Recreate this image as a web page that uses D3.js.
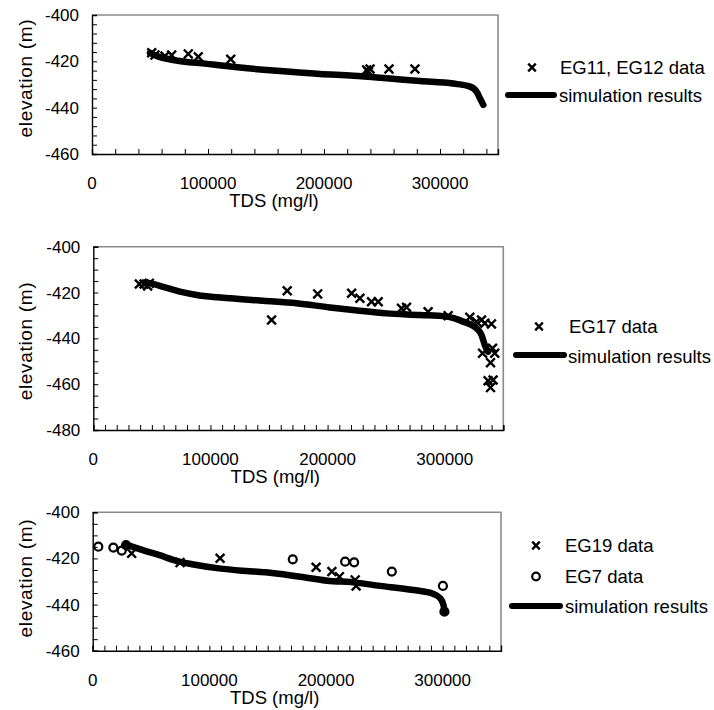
<!DOCTYPE html>
<html><head><meta charset="utf-8">
<script src="https://cdn.jsdelivr.net/npm/d3@7"></script>
<style>
html,body{margin:0;padding:0;background:#fff;}
svg{display:block;font-family:"Liberation Sans",Arial,sans-serif;}
</style></head>
<body>
<svg id="chart" width="714" height="710"></svg>
<script>
// ---------- data ----------
const xTickLabels = [0, 100000, 200000, 300000];

// Panel 1
const p1Legend = ["EG11, EG12 data", "simulation results"];
const p1DataTds  = [51500, 54300, 62900, 68700, 83000, 91600, 119600, 236800, 238200, 239700, 256000, 278400];
const p1DataElev = [-416.3, -417.3, -417.7, -417.3, -416.8, -418.0, -419.1, -423.7, -424.5, -423.3, -423.3, -423.3];
const p1SimTds  = [50000, 55800, 70100, 98900, 127600, 156300, 196600, 225300, 254100, 282800, 311500, 325900, 331600, 334500, 337300];
const p1SimElev = [-416.3, -417.7, -419.4, -421.1, -422.7, -424.0, -425.5, -426.2, -427.3, -428.5, -429.6, -430.9, -433.1, -436.0, -438.8];
const p1YTicks = [-400, -420, -440, -460];

// Panel 2
const p2Legend = ["EG17 data", "simulation results"];
const p2DataTds  = [39300, 43300, 46400, 47800, 152200, 165500, 191500, 220500, 227600, 237500, 243200, 263100, 267400, 285800, 302900, 321400, 327100, 331400, 334200, 339900, 332300, 340800, 342700, 339100, 337000, 341300, 339100];
const p2DataElev = [-416.3, -416.3, -417.1, -416.0, -432.0, -419.2, -420.6, -420.3, -422.5, -424.0, -424.0, -426.9, -426.4, -428.4, -430.1, -430.8, -432.7, -432.0, -433.4, -433.7, -446.5, -444.3, -446.5, -450.6, -458.5, -458.2, -461.5];
const p2SimTds  = [45000, 48400, 59700, 74000, 88200, 116600, 145100, 173500, 202000, 221800, 250300, 278800, 301500, 315700, 327100, 331400, 334200, 337000];
const p2SimElev = [-415.6, -415.9, -417.5, -419.6, -421.1, -422.5, -423.6, -424.7, -426.5, -427.6, -429.1, -429.8, -430.5, -432.7, -435.6, -438.5, -442.9, -445.8];
const p2YTicks = [-400, -420, -440, -460, -480];

// Panel 3
const p3Legend = ["EG19 data", "EG7 data", "simulation results"];
const p3Eg19Tds  = [33400, 74900, 109200, 191500, 205000, 211500, 225000, 225800];
const p3Eg19Elev = [-417.8, -421.8, -419.9, -423.8, -425.7, -427.9, -429.3, -431.9];
const p3Eg7Tds  = [4800, 17700, 24900, 28600, 171500, 216400, 224100, 256400, 300200, 301500];
const p3Eg7Elev = [-414.9, -415.3, -416.6, -414.2, -420.4, -421.4, -421.7, -425.7, -431.9, -443.1];
const p3SimTds  = [28000, 42300, 56600, 74300, 85200, 108100, 128000, 148000, 177800, 206400, 217800, 246400, 274900, 292100, 297900, 300700, 301500];
const p3SimElev = [-413.9, -416.3, -418.5, -421.4, -422.5, -424.3, -425.3, -426.0, -427.9, -429.9, -430.1, -431.9, -433.7, -435.4, -437.3, -440.2, -443.1];
const p3YTicks = [-400, -420, -440, -460];

const xTitle = "TDS (mg/l)";
const yTitle = "elevation (m)";

// ---------- drawing ----------
const svg = d3.select("#chart");
const zip = (a, b) => a.map((v, i) => [v, b[i]]);

function crossPath(s) {
  return `M${-s},${-s}L${s},${s}M${-s},${s}L${s},${-s}`;
}

function drawPanel(cfg) {
  const g = svg.append("g");
  const x = d3.scaleLinear().domain([0, 350000]).range([cfg.left, cfg.right]);
  const y = d3.scaleLinear().domain([cfg.yMin, -400]).range([cfg.bottom, cfg.top]);

  // gray frame (top & right)
  g.append("path")
    .attr("d", `M${cfg.left},${cfg.top}H${cfg.right}V${cfg.bottom}`)
    .attr("fill", "none").attr("stroke", "#8a8a8a").attr("stroke-width", 1.6);

  // x axis (inner ticks)
  const xa = g.append("g").attr("transform", `translate(0,${cfg.bottom})`)
    .call(d3.axisBottom(x).tickValues(d3.range(0, 350001, cfg.xMinor)).tickSize(-5).tickFormat(""));
  // y axis
  const ya = g.append("g").attr("transform", `translate(${cfg.left},0)`)
    .call(d3.axisLeft(y).tickValues(d3.range(-400, cfg.yMin - 0.001, -cfg.yMinor)).tickSize(-5).tickFormat(""));
  [xa, ya].forEach(a => {
    a.select(".domain").attr("stroke", "#000").attr("stroke-width", 1.4);
    a.selectAll(".tick line").attr("stroke", "#000").attr("stroke-width", 1);
  });

  // tick labels
  g.selectAll(".xl").data(xTickLabels).join("text")
    .attr("x", d => x(d)).attr("y", cfg.bottom + 35)
    .attr("text-anchor", "middle").attr("font-size", 17).attr("fill", "#000")
    .text(d => d);
  g.selectAll(".yl").data(cfg.yTicks).join("text")
    .attr("x", cfg.left - 13).attr("y", d => y(d) + 6)
    .attr("text-anchor", "end").attr("font-size", 17).attr("fill", "#000")
    .text(d => d);

  // axis titles
  g.append("text").attr("x", cfg.left + 182).attr("y", cfg.bottom + 53)
    .attr("text-anchor", "middle").attr("font-size", 18.5).text(xTitle);
  g.append("text")
    .attr("transform", `translate(32,${(cfg.top + cfg.bottom) / 2 + cfg.yTitleDy}) rotate(-90)`)
    .attr("text-anchor", "middle").attr("font-size", 19)
    .attr("textLength", 118).attr("lengthAdjust", "spacing").text(yTitle);

  // simulation line
  const line = d3.line().x(d => x(d[0])).y(d => y(d[1])).curve(d3.curveMonotoneX);
  g.append("path").datum(zip(cfg.simTds, cfg.simElev))
    .attr("d", line).attr("fill", "none").attr("stroke", "#000")
    .attr("stroke-width", 6.5).attr("stroke-linecap", "round").attr("stroke-linejoin", "round");

  // crosses
  (cfg.crosses || []).forEach(set => {
    g.selectAll(null).data(zip(set[0], set[1])).join("path")
      .attr("transform", d => `translate(${x(d[0])},${y(d[1])})`)
      .attr("d", crossPath(4.4)).attr("stroke", "#000").attr("stroke-width", 2.4).attr("fill", "none");
  });
  (cfg.circles || []).forEach(set => {
    g.selectAll(null).data(zip(set[0], set[1])).join("circle")
      .attr("cx", d => x(d[0])).attr("cy", d => y(d[1])).attr("r", 4)
      .attr("stroke", "#000").attr("stroke-width", 2.2).attr("fill", "none");
  });

  // legend
  cfg.legend.forEach(item => {
    if (item.type === "cross") {
      g.append("path").attr("transform", `translate(${item.mx},${item.my})`)
        .attr("d", crossPath(3.8)).attr("stroke", "#000").attr("stroke-width", 2.4);
    } else if (item.type === "circle") {
      g.append("circle").attr("cx", item.mx).attr("cy", item.my).attr("r", 3.8)
        .attr("stroke", "#000").attr("stroke-width", 2.2).attr("fill", "none");
    } else {
      g.append("line").attr("x1", item.x1).attr("x2", item.x2).attr("y1", item.my).attr("y2", item.my)
        .attr("stroke", "#000").attr("stroke-width", 6).attr("stroke-linecap", "round");
    }
    g.append("text").attr("x", item.tx).attr("y", item.ty).attr("font-size", 18.5).text(item.label);
  });
}

drawPanel({
  left: 92, right: 498, top: 15, bottom: 154, yMin: -460,
  xMinor: 20000, yMinor: 4, yTicks: p1YTicks, yTitleDy: -6,
  simTds: p1SimTds, simElev: p1SimElev,
  crosses: [[p1DataTds, p1DataElev]],
  legend: [
    {type: "cross", mx: 532, my: 67.5, tx: 560, ty: 74, label: p1Legend[0]},
    {type: "line", x1: 508, x2: 554, my: 95, tx: 559, ty: 102, label: p1Legend[1]}
  ]
});

drawPanel({
  left: 93.3, right: 503.3, top: 246.7, bottom: 430, yMin: -480,
  xMinor: 10000, yMinor: 5, yTicks: p2YTicks, yTitleDy: 3,
  simTds: p2SimTds, simElev: p2SimElev,
  crosses: [[p2DataTds, p2DataElev]],
  legend: [
    {type: "cross", mx: 539, my: 326.5, tx: 569, ty: 333, label: p2Legend[0]},
    {type: "line", x1: 516, x2: 564, my: 355, tx: 568, ty: 363, label: p2Legend[1]}
  ]
});

drawPanel({
  left: 92.7, right: 501, top: 512.3, bottom: 650.7, yMin: -460,
  xMinor: 10000, yMinor: 5, yTicks: p3YTicks, yTitleDy: -3,
  simTds: p3SimTds, simElev: p3SimElev,
  crosses: [[p3Eg19Tds, p3Eg19Elev]],
  circles: [[p3Eg7Tds, p3Eg7Elev]],
  legend: [
    {type: "cross", mx: 536, my: 545.5, tx: 565, ty: 552, label: p3Legend[0]},
    {type: "circle", mx: 536, my: 576.5, tx: 565, ty: 583, label: p3Legend[1]},
    {type: "line", x1: 512, x2: 560, my: 606, tx: 565, ty: 613, label: p3Legend[2]}
  ]
});
</script>
</body></html>
